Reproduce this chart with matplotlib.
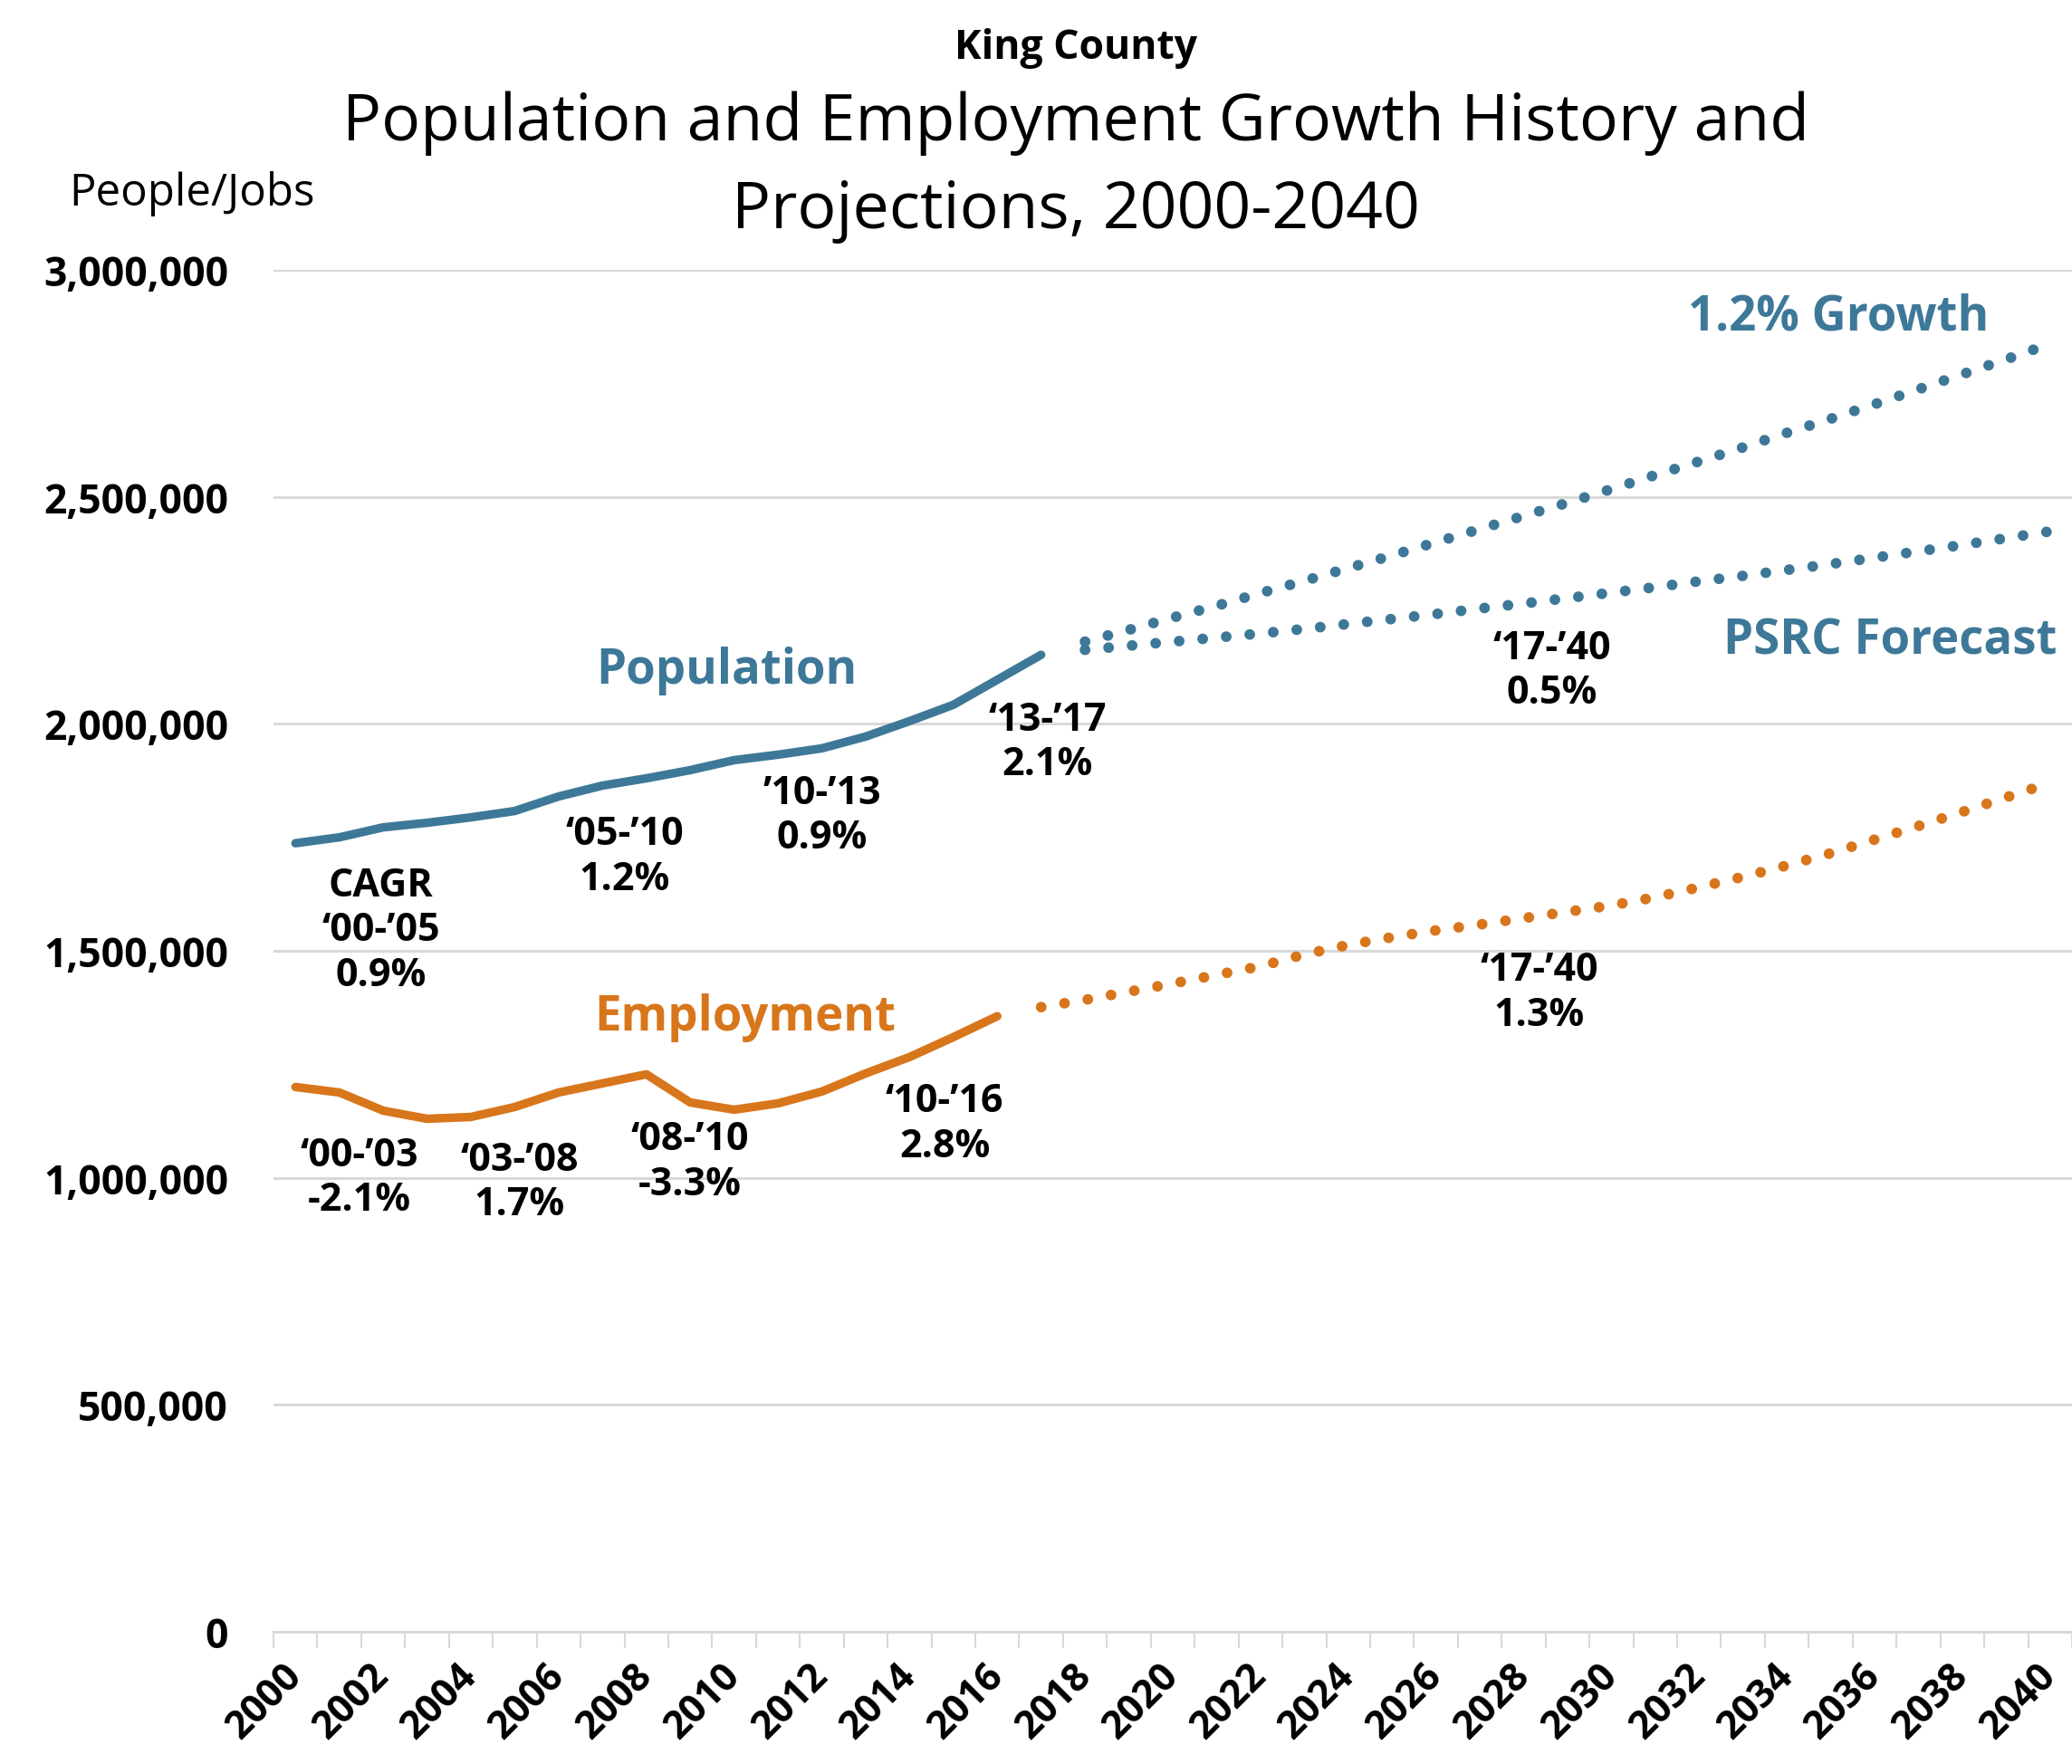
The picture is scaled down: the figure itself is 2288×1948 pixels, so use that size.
import numpy as np
import matplotlib.pyplot as plt

plt.rcParams['font.family'] = ['Open Sans', 'DejaVu Sans']

BLUE = '#3e7898'
ORANGE = '#d8761c'
GRID = '#d9d9d9'

# history
hist_years = list(range(2000, 2018))
population = [1737000, 1750000, 1772000, 1782000, 1794000, 1808000, 1840000,
              1864000, 1880000, 1898000, 1920000, 1932000, 1946000, 1972000,
              2006000, 2042000, 2097000, 2152000]
emp_years = list(range(2000, 2017))
employment = [1200000, 1188000, 1148000, 1130000, 1134000, 1156000, 1188000,
              1208000, 1228000, 1166000, 1150000, 1164000, 1190000, 1230000,
              1266000, 1310000, 1356000]

# projections
pop_fc_years = list(range(2018, 2041))
pop_growth = [2181000, 2207000, 2234000, 2260000, 2288000, 2315000, 2343000,
              2371000, 2400000, 2429000, 2458000, 2487000, 2517000, 2548000,
              2578000, 2609000, 2641000, 2672000, 2704000, 2737000, 2770000,
              2803000, 2837000]
pop_psrc = [2163000, 2172000, 2181000, 2190000, 2199000, 2209000, 2220000,
            2231000, 2242000, 2254000, 2265000, 2277000, 2289000, 2301000,
            2314000, 2326000, 2339000, 2352000, 2366000, 2380000, 2394000,
            2409000, 2424000]
emp_fc_years = list(range(2017, 2041))
emp_psrc = [1376000, 1392000, 1410000, 1428000, 1447000, 1466000, 1492000,
            1513000, 1530000, 1545000, 1558000, 1572000, 1586000, 1600000,
            1618000, 1640000, 1663000, 1688000, 1715000, 1745000, 1775000,
            1806000, 1838000, 1870000]

y_ticks = [0, 500000, 1000000, 1500000, 2000000, 2500000, 3000000]
y_labels = ['0', '500,000', '1,000,000', '1,500,000', '2,000,000',
            '2,500,000', '3,000,000']

# CAGR notes: (year position, value position, text)
notes = [
    (2001.95, 1546000, 'CAGR\n\u201800-\u201905\n0.9%'),
    (2007.5, 1708000, '\u201805-\u201910\n1.2%'),
    (2012.0, 1799000, '\u201910-\u201913\n0.9%'),
    (2017.15, 1961000, '\u201813-\u201917\n2.1%'),
    (2028.65, 2118000, '\u201817-\u201940\n0.5%'),
    (2028.35, 1409000, '\u201817-\u201940\n1.3%'),
    (2001.45, 1001000, '\u201800-\u201903\n-2.1%'),
    (2005.1, 991000, '\u201803-\u201908\n1.7%'),
    (2009.0, 1036000, '\u201808-\u201910\n-3.3%'),
    (2014.8, 1120000, '\u201810-\u201916\n2.8%'),
]

W, H = 2288, 1949
fig = plt.figure(figsize=(W / 100, H / 100), dpi=100)
ax = fig.add_axes([302 / W, 1 - 1803 / H, 1 - 302 / W, (1803 - 299) / H])

solid = dict(lw=6.8, solid_capstyle='round', solid_joinstyle='round')
dotted = dict(lw=8.5, linestyle=(0, (0.01, 2.2)), dash_capstyle='round')

ax.plot(hist_years, population, color=BLUE, **solid)
ax.plot(emp_years, employment, color=ORANGE, **solid)
ax.plot(pop_fc_years, pop_growth, color=BLUE, **dotted)
ax.plot(pop_fc_years, pop_psrc, color=BLUE, **dotted)
ax.plot(emp_fc_years, emp_psrc, color=ORANGE, **dotted)

ax.set_xlim(1999.5, 2040.5)
ax.set_ylim(0, 3000000)

ax.set_yticks(y_ticks)
ax.set_yticklabels(y_labels, fontsize=32, fontweight='bold')
ax.tick_params(axis='y', length=0, pad=36)
ax.yaxis.grid(True, color=GRID, lw=2.2)
ax.set_axisbelow(True)

ax.set_xticks(list(range(2000, 2041, 2)))
ax.set_xticklabels([str(y) for y in range(2000, 2041, 2)], fontsize=31,
                   fontweight='bold', rotation=45, ha='right',
                   rotation_mode='anchor', va='center')
ax.set_xticks(np.arange(1999.5, 2041, 1), minor=True)
ax.tick_params(axis='x', which='major', length=0, pad=30)
ax.tick_params(axis='x', which='minor', length=13, width=1.5, color=GRID)

for s in ['top', 'right', 'left']:
    ax.spines[s].set_visible(False)
ax.spines['bottom'].set_color(GRID)
ax.spines['bottom'].set_linewidth(2.2)

for x, y, t in notes:
    ax.text(x, y, t, ha='center', va='center', fontsize=31,
            fontweight='bold', linespacing=1.2)

ax.text(2009.83, 2118000, 'Population', color=BLUE, fontsize=38,
        fontweight='bold', ha='center', va='center')
ax.text(2010.25, 1354000, 'Employment', color=ORANGE, fontsize=38,
        fontweight='bold', ha='center', va='center')
ax.text(2035.18, 2898000, '1.2% Growth', color=BLUE, fontsize=38,
        fontweight='bold', ha='center', va='center')
ax.text(2036.35, 2183000, 'PSRC Forecast', color=BLUE, fontsize=38,
        fontweight='bold', ha='center', va='center')

fig.text(1188 / W, 1 - 65 / H, 'King County', ha='center', va='baseline',
         fontsize=32, fontweight='bold')
fig.text(1188 / W, 1 - 155 / H, 'Population and Employment Growth History and',
         ha='center', va='baseline', fontsize=51.5)
fig.text(1188 / W, 1 - 252 / H, 'Projections, 2000-2040',
         ha='center', va='baseline', fontsize=51.5)
fig.text(76 / W, 1 - 227 / H, 'People/Jobs', ha='left', va='baseline',
         fontsize=35.5)

fig.savefig('out.png', dpi=100)
